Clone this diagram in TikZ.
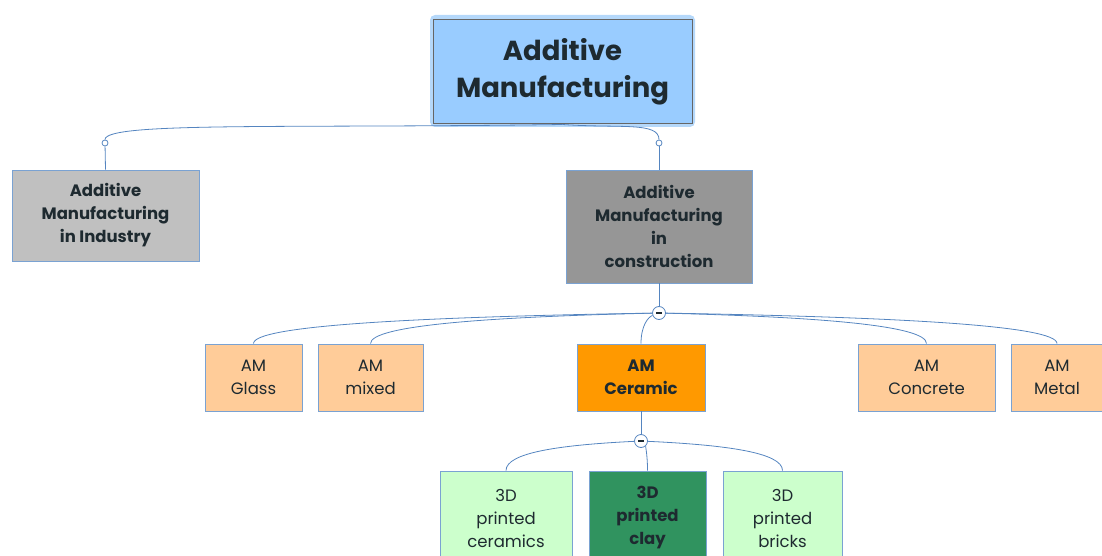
\documentclass[tikz,border=0pt]{standalone}
\usepackage{fontspec}
\setmainfont{Poppins}
\usetikzlibrary{calc}
\definecolor{rootblue}{HTML}{99CCFF}
\definecolor{glowblue}{HTML}{B5D8FA}
\definecolor{edgeblue}{HTML}{5585C0}
\definecolor{boxline}{HTML}{7AA2D2}
\definecolor{greylight}{HTML}{C0C0C0}
\definecolor{greydark}{HTML}{969696}
\definecolor{peach}{HTML}{FFCC99}
\definecolor{amber}{HTML}{FF9900}
\definecolor{mint}{HTML}{CCFFCC}
\definecolor{leaf}{HTML}{30935F}
\definecolor{ink}{HTML}{1E2A30}
\tikzset{
  box/.style={draw=boxline, line width=0.9pt, align=center, inner sep=0pt, text=ink,
    font=\fontsize{16.5}{23}\selectfont},
  heavy/.style={font=\fontsize{16.5}{23}\selectfont\bfseries},
  knob/.style={circle, draw=edgeblue, fill=white, line width=0.8pt, inner sep=0pt, minimum size=6},
  fold/.style={circle, draw=edgeblue, fill=white, line width=0.8pt, inner sep=0pt, minimum size=13,
    path picture={\draw[ink, line width=1.3pt] ([xshift=3.5pt]path picture bounding box.west) -- ([xshift=-3.5pt]path picture bounding box.east);}},
  link/.style={draw=edgeblue, line width=0.8pt},
  branch/.style={to path={.. controls ($(\tikztostart)!0.6!(\tikztotarget |- \tikztostart)+(0,4)$) and ($(\tikztotarget)+(0,-18)$) .. (\tikztotarget)}}
}
\begin{document}
\begin{tikzpicture}[x=1pt, y=-1pt]
	\useasboundingbox (0,0) rectangle (1102,556);
	\fill[glowblue, rounded corners=5] (430,15) rectangle (695,127);
	\node[box, draw=black!60, line width=1pt, fill=rootblue, minimum width=259, minimum height=104,
	  font=\fontsize{27.5}{37}\selectfont\bfseries] (root) at (562.5,72) {Additive\\Manufacturing};
	\node[box, heavy, fill=greylight, minimum width=187, minimum height=91] (industry) at (105.5,215.5) {Additive\\Manufacturing\\in Industry};
	\node[box, heavy, fill=greydark, minimum width=186, minimum height=113] (constr) at (659,226.5) {Additive\\Manufacturing\\in\\construction};
	\node[box, fill=peach, minimum width=97, minimum height=67] (glass) at (253.5,377.5) {AM\\Glass};
	\node[box, fill=peach, minimum width=105, minimum height=67] (mixed) at (370.5,377.5) {AM\\mixed};
	\node[box, heavy, fill=amber, minimum width=128, minimum height=67] (ceramic) at (641,377.5) {AM\\Ceramic};
	\node[box, fill=peach, minimum width=137, minimum height=67] (concrete) at (926.5,377.5) {AM\\Concrete};
	\node[box, fill=peach, minimum width=92, minimum height=67] (metal) at (1057,377.5) {AM\\Metal};
	\node[box, fill=mint, minimum width=132, minimum height=94] (ceramics) at (506,518) {3D\\printed\\ceramics};
	\node[box, heavy, fill=leaf, minimum width=117, minimum height=94] (clay) at (647.5,518) {3D\\printed\\clay};
	\node[box, fill=mint, minimum width=119, minimum height=94] (bricks) at (782.5,518) {3D\\printed\\bricks};

	\node[knob] (knobL) at (105,143) {};
	\node[knob] (knobR) at (659,143) {};
	\node[fold] (foldA) at (659,313) {};
	\node[fold] (foldB) at (641,441) {};

	\path[link] (root.south) edge[branch] (knobL.north)
	(root.south) edge[branch] (knobR.north)
	(knobL) edge (industry.north)
	(knobR) edge (constr.north)
	(constr.south) edge (foldA)
	(foldA) edge[branch] (glass.north)
	(foldA) edge[branch] (mixed.north)
	(foldA) edge[branch] (ceramic.north)
	(foldA) edge[branch] (concrete.north)
	(foldA) edge[branch] (metal.north)
	(ceramic.south) edge (foldB)
	(foldB) edge[branch] (ceramics.north)
	(foldB) edge[branch] (clay.north)
	(foldB) edge[branch] (bricks.north);
\end{tikzpicture}
\end{document}
